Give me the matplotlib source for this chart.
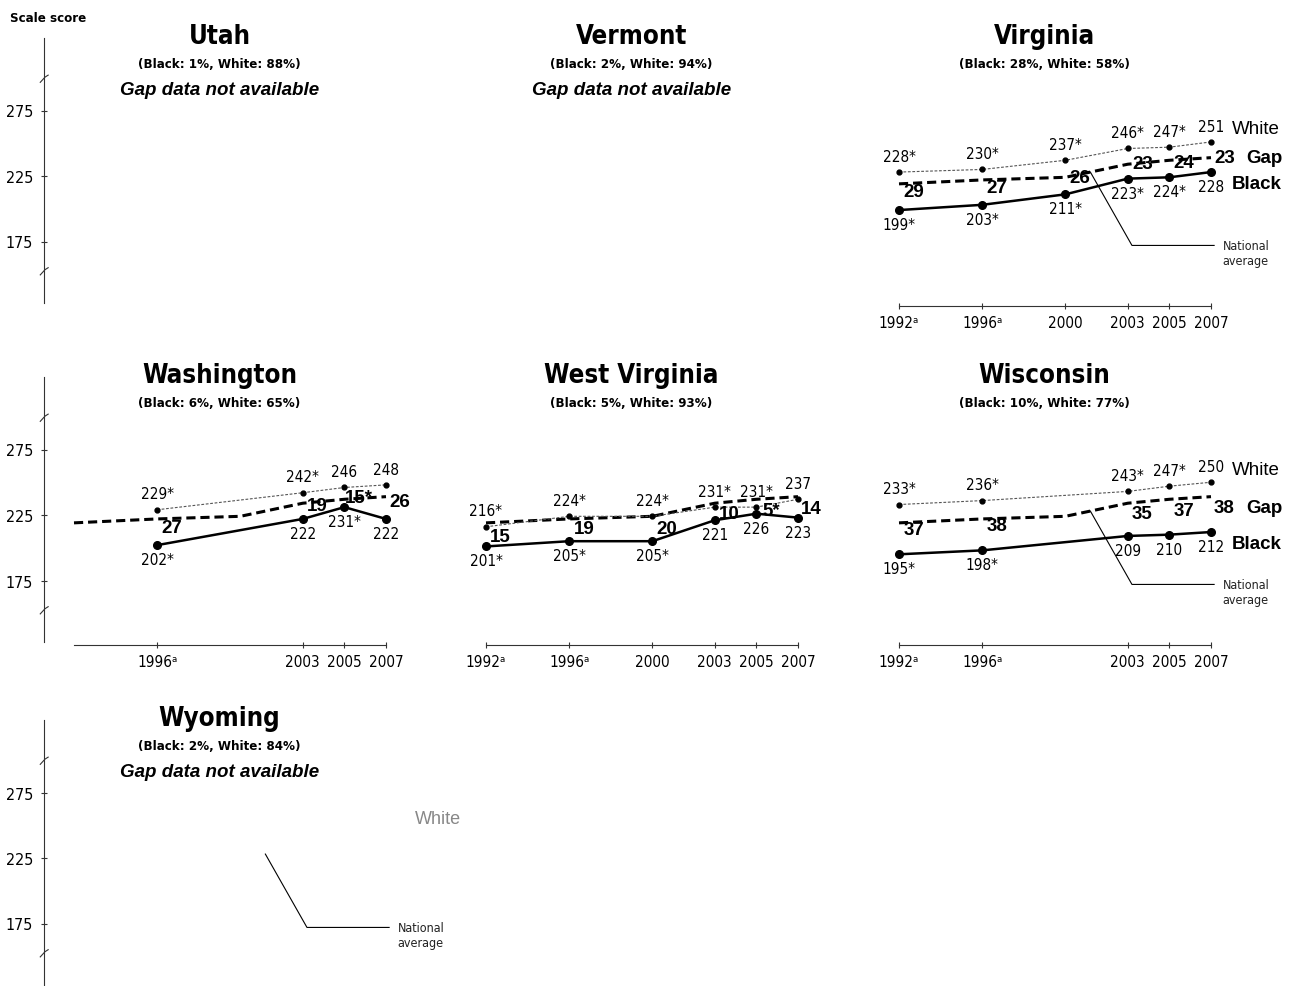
import matplotlib
matplotlib.use('Agg')
import matplotlib.pyplot as plt
from matplotlib.font_manager import FontProperties, findfont
import numpy as np


def font_file(fp):
    try:
        return findfont(fp, fallback_to_default=False)
    except Exception:
        return ''


# pick a narrow face for titles and numbers
NARROW, STRETCH = 'Liberation Sans', 'normal'
if 'Narrow' in font_file(FontProperties(family='Liberation Sans Narrow')):
    NARROW = 'Liberation Sans Narrow'
elif 'Condensed' in font_file(FontProperties(family='DejaVu Sans', stretch='condensed')):
    NARROW, STRETCH = 'DejaVu Sans', 'condensed'
SANS = 'Liberation Sans'

plt.rcParams['font.family'] = [NARROW, 'DejaVu Sans']
plt.rcParams['font.stretch'] = STRETCH

# national average (dashed line)
nat_years = [1992, 1996, 2000, 2003, 2005, 2007]
nat_avg = [219, 222, 224, 234, 237, 239]

# Virginia
va_years = [1992, 1996, 2000, 2003, 2005, 2007]
va_white = [228, 230, 237, 246, 247, 251]
va_black = [199, 203, 211, 223, 224, 228]
va_white_lbl = ['228*', '230*', '237*', '246*', '247*', '251']
va_black_lbl = ['199*', '203*', '211*', '223*', '224*', '228']
va_gap_lbl = ['29', '27', '26', '23', '24', '23']

# Washington
wa_years = [1996, 2003, 2005, 2007]
wa_white = [229, 242, 246, 248]
wa_black = [202, 222, 231, 222]
wa_white_lbl = ['229*', '242*', '246', '248']
wa_black_lbl = ['202*', '222', '231*', '222']
wa_gap_lbl = ['27', '19', '15*', '26']

# West Virginia
wv_years = [1992, 1996, 2000, 2003, 2005, 2007]
wv_white = [216, 224, 224, 231, 231, 237]
wv_black = [201, 205, 205, 221, 226, 223]
wv_white_lbl = ['216*', '224*', '224*', '231*', '231*', '237']
wv_black_lbl = ['201*', '205*', '205*', '221', '226', '223']
wv_gap_lbl = ['15', '19', '20', '10', '5*', '14']

# Wisconsin
wi_years = [1992, 1996, 2003, 2005, 2007]
wi_white = [233, 236, 243, 247, 250]
wi_black = [195, 198, 209, 210, 212]
wi_white_lbl = ['233*', '236*', '243*', '247*', '250']
wi_black_lbl = ['195*', '198*', '209', '210', '212']
wi_gap_lbl = ['37', '38', '35', '37', '38']

titles = ['Utah', 'Vermont', 'Virginia', 'Washington', 'West Virginia', 'Wisconsin', 'Wyoming']
shares = ['(Black: 1%, White: 88%)', '(Black: 2%, White: 94%)', '(Black: 28%, White: 58%)',
          '(Black: 6%, White: 65%)', '(Black: 5%, White: 93%)', '(Black: 10%, White: 77%)',
          '(Black: 2%, White: 84%)']

panels = {
    'Virginia': (va_years, va_white, va_black, va_white_lbl, va_black_lbl, va_gap_lbl),
    'Washington': (wa_years, wa_white, wa_black, wa_white_lbl, wa_black_lbl, wa_gap_lbl),
    'West Virginia': (wv_years, wv_white, wv_black, wv_white_lbl, wv_black_lbl, wv_gap_lbl),
    'Wisconsin': (wi_years, wi_white, wi_black, wi_white_lbl, wi_black_lbl, wi_gap_lbl),
}
with_legend = ['Virginia', 'Wisconsin']
with_leader = ['Virginia', 'Wisconsin', 'Wyoming']

W, H = 1293, 987
fig = plt.figure(figsize=(W / 100, H / 100), dpi=100)

PX_YR = 20.8
PX_UNIT = 1.31
col_x1992 = [74, 486, 899]
row_base = [177, 516, 859]
YLO, YHI = 125, 330

bold_sans = dict(fontweight='bold', family=[SANS, 'DejaVu Sans'], fontstretch='normal')
narrow = dict(family=[NARROW, 'DejaVu Sans'], fontstretch=STRETCH)


def year_lbl(y):
    return f'{y}\u1d43' if y < 2000 else str(y)


def make_axes(row, col):
    x0 = col_x1992[col]
    left = x0 - 30
    right = x0 + 15 * PX_YR + 85
    top = row_base[row] - (YHI - 225) * PX_UNIT
    bottom = row_base[row] + (225 - YLO) * PX_UNIT
    ax = fig.add_axes([left / W, 1 - bottom / H, (right - left) / W, (bottom - top) / H])
    ax.set_xlim(1992 - 30 / PX_YR, 2007 + 85 / PX_YR)
    ax.set_ylim(YLO, YHI)
    ax.patch.set_alpha(0)
    for s in ax.spines.values():
        s.set_visible(False)
    ax.set_xticks([])
    ax.set_yticks([])
    return ax


for i, name in enumerate(titles):
    row, col = divmod(i, 3)
    ax = make_axes(row, col)

    ax.text(1999, 332, name, ha='center', va='center', fontsize=18.5,
            fontweight='bold', clip_on=False, **narrow)
    ax.text(1999, 310.5, shares[i], ha='center', va='center', fontsize=9.5,
            fontweight='bold', clip_on=False, **narrow)

    if col == 0:
        ax.spines['left'].set_visible(True)
        ax.spines['left'].set_bounds(128, 330)
        ax.spines['left'].set_linestyle((0, (3, 1)))
        ax.spines['left'].set_linewidth(0.8)
        ax.spines['left'].set_color('#333333')
        ax.set_yticks([175, 225, 275])
        ax.tick_params(axis='y', direction='inout', length=4, width=0.8,
                       labelsize=11.5, pad=6, color='#333333')
        x0 = ax.get_xlim()[0]
        for yb in (299, 152):
            ax.plot([x0 - 0.18, x0 + 0.05, x0 + 0.2], [yb - 2.5, yb + 1.5, yb + 3],
                    color='#333333', lw=0.8, clip_on=False)

    if name not in panels:
        ax.text(1999, 291, 'Gap data not available', ha='center', va='center',
                fontsize=13.5, style='italic', **bold_sans)
    else:
        years, white, black, wlbl, blbl, glbl = panels[name]
        ax.spines['bottom'].set_visible(True)
        ax.spines['bottom'].set_bounds(1992, 2007)
        ax.spines['bottom'].set_linestyle((0, (3, 1)))
        ax.spines['bottom'].set_linewidth(0.8)
        ax.spines['bottom'].set_color('#333333')
        ax.spines['bottom'].set_position(('data', YLO + 0.5))
        ax.set_xticks(years)
        ax.set_xticklabels([year_lbl(y) for y in years])
        ax.tick_params(axis='x', direction='inout', length=5, width=0.8,
                       labelsize=11, pad=4, color='#333333')

        ax.plot(nat_years, nat_avg, color='black', lw=2.2, ls=(0, (3, 1.6)), zorder=2)
        ax.plot(years, white, color='#555555', lw=0.8, ls=(0, (2.5, 1.5)),
                marker='o', ms=3.5, mfc='black', mec='black', zorder=3)
        ax.plot(years, black, color='black', lw=1.8, marker='o', ms=5.5, zorder=3)

        for x, yv, t in zip(years, white, wlbl):
            ax.annotate(t, (x, yv), xytext=(0, 6), textcoords='offset points',
                        ha='center', va='bottom', fontsize=11)
        for x, yv, t in zip(years, black, blbl):
            ax.annotate(t, (x, yv), xytext=(0, -5), textcoords='offset points',
                        ha='center', va='top', fontsize=11)

        for k, (x, t) in enumerate(zip(years, glbl)):
            mid = (white[k] + black[k]) / 2
            if x == 2007:
                ax.text(2007.15, mid, t, ha='left', va='center', fontsize=13.5,
                        zorder=5, **bold_sans)
            else:
                ax.text(x + 0.7, mid, t, ha='center', va='center', fontsize=13.5,
                        zorder=5, **bold_sans)

        if name in with_legend:
            ax.text(2008.0, white[-1] + 10, 'White', ha='left', va='center',
                    fontsize=13.5, family=[SANS, 'DejaVu Sans'], fontstretch='normal',
                    clip_on=False)
            ax.text(2008.7, (white[-1] + black[-1]) / 2, 'Gap', ha='left', va='center',
                    fontsize=13.5, clip_on=False, **bold_sans)
            ax.text(2008.0, black[-1] - 9, 'Black', ha='left', va='center',
                    fontsize=13.5, clip_on=False, **bold_sans)

    if name in with_leader:
        xs = 2001.2
        ys = np.interp(xs, nat_years, nat_avg)
        ax.plot([xs, 2003.2, 2007.15], [ys, 172, 172], color='black', lw=0.8, zorder=4)
        ax.text(2007.55, 177, 'National\naverage', ha='left', va='top', fontsize=9,
                linespacing=1.2, color='#222222')

    if name == 'Wyoming':
        ax.text(2008.4, 255, 'White', ha='left', va='center', fontsize=13,
                family=[SANS, 'DejaVu Sans'], fontstretch='normal', color='#888888')

fig.text(10 / W, 1 - 18 / H, 'Scale score', ha='left', va='center', fontsize=9.5,
         fontweight='bold')

fig.savefig('out.png', dpi=100)
